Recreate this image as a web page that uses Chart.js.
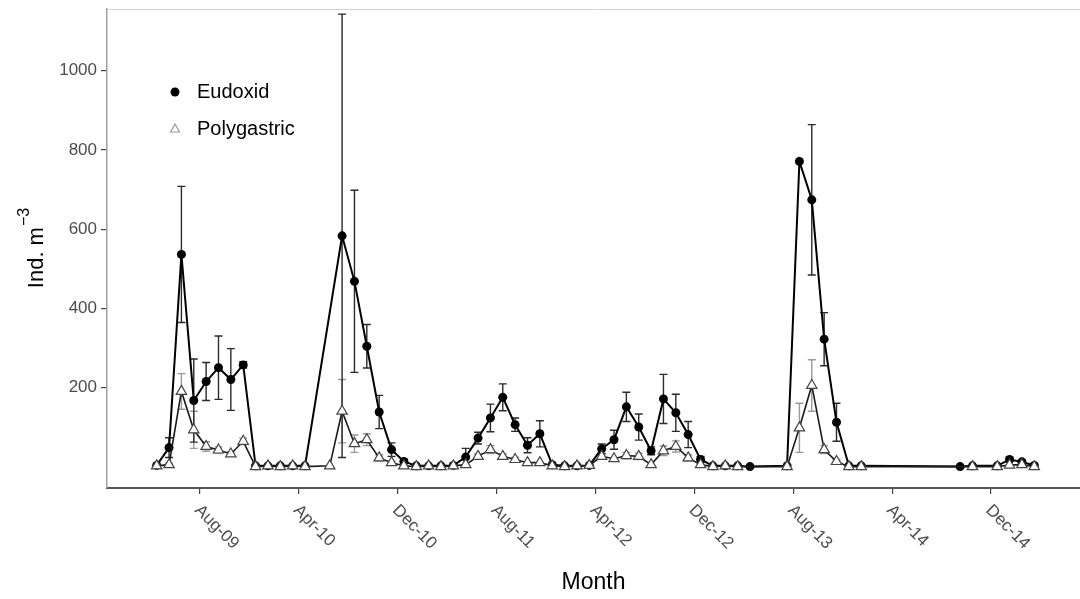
<!DOCTYPE html>
<html>
<head>
<meta charset="utf-8">
<script src="https://cdn.jsdelivr.net/npm/chart.js@4.4.1/dist/chart.umd.min.js"></script>
<style>
  html, body { margin: 0; padding: 0; background: #fff; }
  #wrap { width: 1080px; height: 599px; }
</style>
</head>
<body>
<div id="wrap"><canvas id="chart" width="1080" height="599"></canvas></div>
<script>
// sampled months (samples sit mid-month)
const months = [
    'Apr-09', 'May-09', 'Jun-09', 'Jul-09', 'Aug-09', 'Sep-09', 'Oct-09', 'Nov-09', 'Dec-09',
    'Jan-10', 'Feb-10', 'Mar-10', 'Apr-10', 'Jun-10', 'Jul-10', 'Aug-10', 'Sep-10', 'Oct-10', 'Nov-10', 'Dec-10',
    'Jan-11', 'Feb-11', 'Mar-11', 'Apr-11', 'May-11', 'Jun-11', 'Jul-11', 'Aug-11', 'Sep-11', 'Oct-11', 'Nov-11', 'Dec-11',
    'Jan-12', 'Feb-12', 'Mar-12', 'Apr-12', 'May-12', 'Jun-12', 'Jul-12', 'Aug-12', 'Sep-12', 'Oct-12', 'Nov-12', 'Dec-12',
    'Jan-13', 'Feb-13', 'Mar-13', 'Apr-13', 'Jul-13', 'Aug-13', 'Sep-13', 'Oct-13', 'Nov-13', 'Dec-13',
    'Jan-14', 'Sep-14', 'Oct-14', 'Dec-14',
    'Jan-15', 'Feb-15', 'Mar-15'
];

const eudoxid = [
    3, 48, 536, 167, 215, 250, 220, 257, 2,
    2, 2, 2, 2, null, 583, 468, 304, 138, 43, 13,
    2, 2, 2, 3, 24, 72, 123, 175, 106, 54, 83, 5,
    2, 2, 3, 45, 68, 151, 100, 40, 171, 136, 81, 18,
    2, 2, 2, 0, 2, 771, 674, 322, 112, 2,
    2, 0, 2, 2,
    18, 12, 3
];
const eudoxidSd = [
    0, 25, 172, 105, 48, 80, 78, 8, 0,
    0, 0, 0, 0, null, 560, 230, 55, 42, 17, 5,
    0, 0, 0, 0, 22, 15, 35, 34, 17, 19, 33, 0,
    0, 0, 0, 12, 24, 37, 33, 10, 62, 47, 33, 8,
    0, 0, 0, 0, 0, 0, 190, 67, 48, 0,
    0, 0, 0, 0,
    5, 4, 0
];

const polygastric = [
    2, 5, 190, 93, 51, 42, 32, 64, 0,
    2, 0, 2, 0, 2, 140, 58, 68, 22, 10, 2,
    0, 2, 0, 2, 5, 26, 43, 26, 18, 10, 10, 2,
    0, 2, 3, 26, 20, 28, 26, 5, 40, 51, 22, 5,
    0, 2, 0, null, 0, 98, 205, 43, 13, 0,
    0, null, 0, 0,
    4, 5, 0
];
const polygastricSd = [
    0, 3, 45, 47, 12, 8, 6, 8, 0,
    0, 0, 0, 0, 0, 80, 22, 15, 8, 4, 0,
    0, 0, 0, 0, 0, 6, 10, 6, 5, 0, 0, 0,
    0, 0, 0, 6, 0, 8, 8, 0, 12, 14, 8, 0,
    0, 0, 0, null, 0, 62, 65, 10, 5, 0,
    0, null, 0, 0,
    0, 0, 0
];

const xTickLabels = ['Aug-09', 'Apr-10', 'Dec-10', 'Aug-11', 'Apr-12', 'Dec-12', 'Aug-13', 'Apr-14', 'Dec-14'];
const yTicks = [200, 400, 600, 800, 1000];

const monthNames = ['Jan', 'Feb', 'Mar', 'Apr', 'May', 'Jun', 'Jul', 'Aug', 'Sep', 'Oct', 'Nov', 'Dec'];

// months counted from Jan-09
function monthIndex(label) {
    const parts = label.split('-');
    return (parseInt(parts[1], 10) - 9) * 12 + monthNames.indexOf(parts[0]);
}

function buildPoints(values, sds) {
    return months
        .map((m, i) => ({ x: monthIndex(m) + 0.5, y: values[i], sd: sds[i] }))
        .filter(p => p.y !== null);
}

const FONT = '"Liberation Sans", Arial, Helvetica, sans-serif';
Chart.defaults.font.family = FONT;

const errorBars = {
    id: 'errorBars',
    beforeDatasetsDraw(chart) {
        const ctx = chart.ctx;
        const xs = chart.scales.x, ys = chart.scales.y;
        ctx.save();
        chart.data.datasets.forEach(ds => {
            ctx.strokeStyle = ds.errorColor;
            ctx.lineWidth = 1.4;
            ds.data.forEach(p => {
                if (!p.sd) return;
                const px = xs.getPixelForValue(p.x);
                const top = ys.getPixelForValue(p.y + p.sd);
                const bot = ys.getPixelForValue(p.y - p.sd);
                ctx.beginPath();
                ctx.moveTo(px, top); ctx.lineTo(px, bot);
                ctx.moveTo(px - 4, top); ctx.lineTo(px + 4, top);
                ctx.moveTo(px - 4, bot); ctx.lineTo(px + 4, bot);
                ctx.stroke();
            });
        });
        ctx.restore();
    }
};

const decorations = {
    id: 'decorations',
    afterDraw(chart) {
        const ctx = chart.ctx;
        const area = chart.chartArea;
        const xs = chart.scales.x;
        ctx.save();

        // top frame line
        ctx.strokeStyle = '#d4d4d4';
        ctx.lineWidth = 1;
        ctx.beginPath();
        ctx.moveTo(area.left, area.top + 0.5);
        ctx.lineTo(area.right, area.top + 0.5);
        ctx.stroke();

        // rotated month labels
        ctx.fillStyle = '#4d4d4d';
        ctx.font = '17px ' + FONT;
        ctx.textAlign = 'left';
        ctx.textBaseline = 'alphabetic';
        xTickLabels.forEach(l => {
            const px = xs.getPixelForValue(monthIndex(l));
            ctx.save();
            ctx.translate(px - 6, area.bottom + 23);
            ctx.rotate(Math.PI / 4);
            ctx.fillText(l, 0, 0);
            ctx.restore();
        });

        // axis titles
        ctx.fillStyle = '#000';
        ctx.font = '23px ' + FONT;
        ctx.textAlign = 'center';
        ctx.textBaseline = 'middle';
        ctx.fillText('Month', (area.left + area.right) / 2, 583);

        ctx.save();
        ctx.translate(35, (area.top + area.bottom) / 2);
        ctx.rotate(-Math.PI / 2);
        ctx.font = '22px ' + FONT;
        const main = 'Ind. m';
        const wMain = ctx.measureText(main).width;
        ctx.font = '16px ' + FONT;
        const sup = '\u22123';
        const wSup = ctx.measureText(sup).width;
        const start = -(wMain + wSup) / 2;
        ctx.textAlign = 'left';
        ctx.textBaseline = 'alphabetic';
        ctx.font = '22px ' + FONT;
        ctx.fillText(main, start, 8);
        ctx.font = '16px ' + FONT;
        ctx.fillText(sup, start + wMain + 1, -6);
        ctx.restore();

        // legend
        const lx = area.left + 68;
        const ly1 = area.top + 83;
        const ly2 = area.top + 120;
        ctx.fillStyle = '#000';
        ctx.beginPath();
        ctx.arc(lx, ly1, 4.5, 0, Math.PI * 2);
        ctx.fill();
        ctx.strokeStyle = '#999';
        ctx.lineWidth = 1.2;
        ctx.beginPath();
        ctx.moveTo(lx, ly2 - 5);
        ctx.lineTo(lx + 4.5, ly2 + 3);
        ctx.lineTo(lx - 4.5, ly2 + 3);
        ctx.closePath();
        ctx.stroke();
        ctx.font = '20px ' + FONT;
        ctx.textAlign = 'left';
        ctx.textBaseline = 'middle';
        ctx.fillText('Eudoxid', lx + 22, ly1);
        ctx.fillText('Polygastric', lx + 22, ly2);

        ctx.restore();
    }
};

new Chart(document.getElementById('chart'), {
    type: 'line',
    data: {
        datasets: [
            {
                label: 'Polygastric',
                data: buildPoints(polygastric, polygastricSd),
                order: 0,
                errorColor: '#9a9a9a',
                borderColor: '#1a1a1a',
                borderWidth: 1.6,
                pointStyle: 'triangle',
                pointRadius: 6,
                pointBackgroundColor: '#fff',
                pointBorderColor: '#444',
                pointBorderWidth: 1.2,
                tension: 0
            },
            {
                label: 'Eudoxid',
                data: buildPoints(eudoxid, eudoxidSd),
                order: 1,
                errorColor: '#2a2a2a',
                borderColor: '#000',
                borderWidth: 2,
                pointStyle: 'circle',
                pointRadius: 4.5,
                pointBackgroundColor: '#000',
                pointBorderColor: '#000',
                pointBorderWidth: 0,
                tension: 0
            }
        ]
    },
    options: {
        responsive: false,
        animation: false,
        devicePixelRatio: 1,
        layout: { autoPadding: false, padding: { top: 9, right: 0, bottom: 0, left: 0 } },
        plugins: {
            legend: { display: false },
            tooltip: { enabled: false }
        },
        scales: {
            x: {
                type: 'linear',
                min: -0.52,
                max: 78.2,
                afterBuildTicks: axis => {
                    axis.ticks = xTickLabels.map(l => ({ value: monthIndex(l) }));
                },
                afterFit: axis => {
                    axis.height = 111;
                    axis.paddingLeft = 0;
                    axis.paddingRight = 0;
                },
                ticks: { display: false },
                grid: { drawOnChartArea: false, drawTicks: true, tickLength: 6, color: '#444', lineWidth: 1.2 },
                border: { display: true, color: '#555', width: 2 }
            },
            y: {
                type: 'linear',
                min: -54,
                max: 1156,
                afterBuildTicks: axis => {
                    axis.ticks = yTicks.map(v => ({ value: v }));
                },
                afterFit: axis => {
                    axis.width = 107;
                    axis.paddingTop = 0;
                    axis.paddingBottom = 0;
                },
                ticks: {
                    color: '#4d4d4d',
                    font: { size: 17 },
                    padding: 4,
                    callback: v => String(v)
                },
                grid: { drawOnChartArea: false, drawTicks: true, tickLength: 6, color: '#444', lineWidth: 1.2 },
                border: { display: true, color: '#a0a0a0', width: 1.5 }
            }
        }
    },
    plugins: [errorBars, decorations]
});
</script>
</body>
</html>
